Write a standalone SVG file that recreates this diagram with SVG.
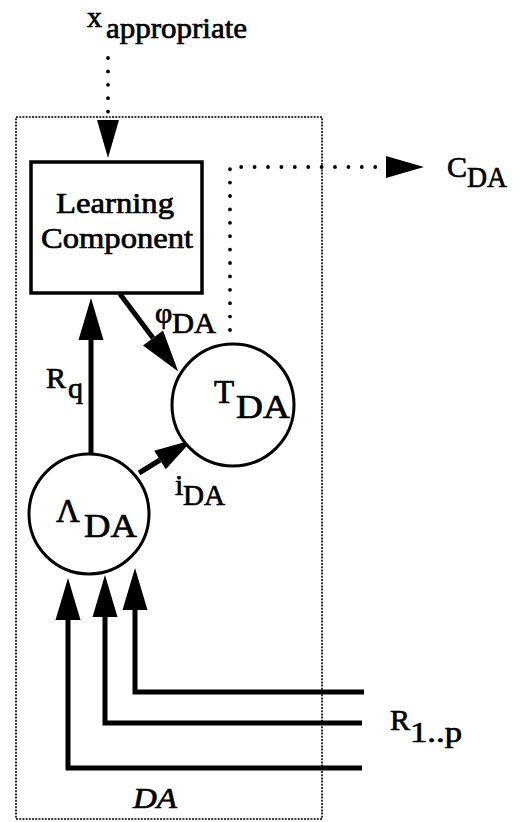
<svg xmlns="http://www.w3.org/2000/svg" width="528" height="822" viewBox="0 0 528 822">
  <style>
    text { font-family: "Liberation Serif", "Times New Roman", serif; fill: #000; stroke: #000; stroke-width: 0.7; }
    .lbl { font-size: 30px; }
    .big { font-size: 33px; }
    .thick { fill: none; stroke: #000; stroke-width: 5; }
    .dots { fill: none; stroke: #000; stroke-width: 3.8; stroke-linecap: round; stroke-dasharray: 0 13.4; }
    .node { fill: #fff; stroke: #000; stroke-width: 3; }
    .frame { fill: none; stroke: #000; stroke-width: 1.6; stroke-dasharray: 2 1.2; }
  </style>
  <defs>
    <!-- filled arrowheads; reference point at the base so the shaft stops there -->
    <marker id="head" markerUnits="userSpaceOnUse" markerWidth="42" markerHeight="26" refX="0" refY="12.5" orient="auto" overflow="visible">
      <path d="M0,0 L42,12.5 L0,25 Z" fill="#000"/>
    </marker>
    <marker id="headSmall" markerUnits="userSpaceOnUse" markerWidth="38" markerHeight="22" refX="0" refY="11" orient="auto" overflow="visible">
      <path d="M0,0 L38,11 L0,22 Z" fill="#000"/>
    </marker>
  </defs>

  <!-- DA boundary -->
  <g id="da-frame">
    <rect class="frame" x="16" y="117" width="306" height="702"/>
    <text class="lbl" x="133" y="808" font-style="italic" textLength="44" lengthAdjust="spacingAndGlyphs">DA</text>
  </g>

  <!-- external labels -->
  <g id="x-appropriate">
    <text class="lbl" x="87" y="27">x</text>
    <text class="lbl" x="106" y="38" textLength="141" lengthAdjust="spacingAndGlyphs">appropriate</text>
  </g>
  <g id="c-da">
    <text class="lbl" x="447" y="177">C</text>
    <text class="lbl" x="467" y="187" textLength="40" lengthAdjust="spacingAndGlyphs">DA</text>
  </g>
  <g id="r-inputs">
    <text class="lbl" x="390" y="730">R</text>
    <text class="lbl" x="410" y="742" textLength="52" lengthAdjust="spacingAndGlyphs">1..p</text>
  </g>

  <!-- connectors -->
  <g id="connectors">
    <path class="dots" d="M108,58 L108,114"/>
    <path d="M108,114 L108,120" stroke="none" fill="none" marker-end="url(#headSmall)"/>
    <path class="dots" d="M230,330 L230,167 L378,167"/>
    <path d="M380,167 L386,167" stroke="none" fill="none" marker-end="url(#headSmall)"/>

    <!-- phi_DA -->
    <path class="thick" d="M120,294 L153,338" marker-end="url(#head)"/>
    <!-- R_q -->
    <path class="thick" d="M91,455 L91,340" marker-end="url(#head)"/>
    <!-- i_DA -->
    <path class="thick" d="M139,473 L160,460" marker-end="url(#headSmall)"/>

    <!-- R_1..p inputs -->
    <path class="thick" d="M362,768 L68,768 L68,620" marker-end="url(#head)"/>
    <path class="thick" d="M362,723 L105,723 L105,617" marker-end="url(#head)"/>
    <path class="thick" d="M364,692 L135,692 L135,610" marker-end="url(#head)"/>
  </g>

  <!-- connector labels -->
  <g id="edge-labels">
    <text class="lbl" x="155" y="323">φ</text>
    <text class="lbl" x="172" y="333" textLength="44" lengthAdjust="spacingAndGlyphs">DA</text>
    <text class="lbl" x="46" y="388">R</text>
    <text class="lbl" x="68" y="398">q</text>
    <text class="lbl" x="175" y="495">i</text>
    <text class="lbl" x="183" y="505" textLength="42" lengthAdjust="spacingAndGlyphs">DA</text>
  </g>

  <g id="learning-component">
    <rect x="31" y="162" width="171" height="131" fill="#fff" stroke="#000" stroke-width="3.5"/>
    <text class="lbl" x="56" y="213" font-size="31" textLength="118" lengthAdjust="spacingAndGlyphs">Learning</text>
    <text class="lbl" x="41" y="248" font-size="31" textLength="152" lengthAdjust="spacingAndGlyphs">Component</text>
  </g>

  <g id="t-da">
    <circle class="node" cx="233" cy="405" r="61"/>
    <text class="big" x="214" y="403">T</text>
    <text class="big" x="236" y="418" textLength="54" lengthAdjust="spacingAndGlyphs">DA</text>
  </g>

  <g id="lambda-da">
    <circle class="node" cx="89" cy="514" r="60"/>
    <text class="big" x="56" y="522">Λ</text>
    <text class="big" x="84" y="537" textLength="53" lengthAdjust="spacingAndGlyphs">DA</text>
  </g>
</svg>
